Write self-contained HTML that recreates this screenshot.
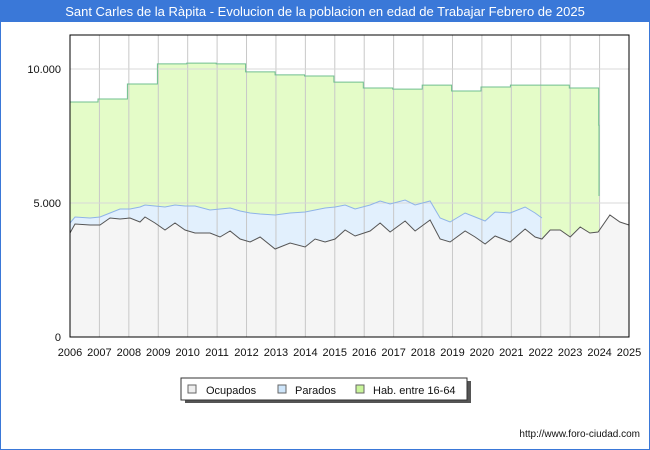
<!DOCTYPE html>
<html><head><meta charset="utf-8"><style>
body{margin:0;background:#fff;font-family:"Liberation Sans",sans-serif}
svg{display:block}
</style></head><body>
<svg width="650" height="450" viewBox="0 0 650 450" id="c">
<rect x="0.5" y="0.5" width="649" height="449" fill="#fff" stroke="#3a78d8"/>
<rect x="0" y="0" width="650" height="22" fill="#3a78d8"/>
<text x="325" y="16" text-anchor="middle" fill="#fff" font-size="13">Sant Carles de la Ràpita - Evolucion de la poblacion en edad de Trabajar Febrero de 2025</text>
<g id="plot"></g>
<g>
<rect x="185" y="381" width="286" height="22" fill="#555"/>
<rect x="181" y="378" width="286" height="22" fill="#fff" stroke="#333"/>
<rect x="188" y="385" width="8" height="8" fill="#eee" stroke="#666"/>
<text x="206" y="394" font-size="11" fill="#111">Ocupados</text>
<rect x="278" y="385" width="8" height="8" fill="#cfe6fb" stroke="#666"/>
<text x="295" y="394" font-size="11" fill="#111">Parados</text>
<rect x="356" y="385" width="8" height="8" fill="#c9f59a" stroke="#666"/>
<text x="373" y="394" font-size="11" fill="#111">Hab. entre 16-64</text>
</g>
<text x="640" y="437" text-anchor="end" font-size="10" fill="#111">http://www.foro-ciudad.com</text>
</svg>
<script>
const yearTicks=[2006,2007,2008,2009,2010,2011,2012,2013,2014,2015,2016,2017,2018,2019,2020,2021,2022,2023,2024,2025];
const yTicks=[0,5000,10000];
const yTickLabels=["0","5.000","10.000"];
const habYears=[2006,2006.95,2007.95,2008.97,2009.97,2010.97,2011.97,2012.97,2013.97,2014.97,2015.97,2016.97,2017.97,2018.97,2019.97,2020.97,2021.97,2022.97,2023.97,2023.98];
const habValues=[8770,8880,9440,10190,10220,10190,9890,9780,9740,9510,9290,9250,9400,9180,9330,9400,9400,9290,7900,5260];
const ocYears=[2006,2006.17,2006.68,2007.02,2007.36,2007.7,2008.04,2008.38,2008.55,2008.89,2009.23,2009.57,2009.91,2010.25,2010.76,2011.1,2011.44,2011.78,2012.12,2012.46,2012.97,2013.48,2013.99,2014.33,2014.67,2015.01,2015.35,2015.69,2016.2,2016.54,2016.88,2017.39,2017.73,2018.24,2018.58,2018.92,2019.43,2019.77,2020.11,2020.45,2020.96,2021.47,2021.81,2022.04,2022.32,2022.66,2023,2023.34,2023.67,2023.95,2024.35,2024.69,2025];
const ocValues=[3880,4216,4179,4179,4440,4403,4440,4291,4477,4253,3992,4253,3992,3880,3880,3731,3955,3656,3544,3731,3283,3507,3358,3656,3544,3656,3992,3768,3955,4253,3918,4328,3955,4365,3656,3544,3955,3731,3470,3768,3544,4029,3731,3656,3992,3992,3731,4104,3880,3918,4552,4291,4179];
const parValues=[373,261,261,298,187,373,336,560,448,634,858,672,895,1007,858,1045,858,1045,1082,858,1269,1119,1306,1082,1269,1194,933,1007,970,821,1045,784,970,709,784,746,672,746,858,895,1082,821,895,784];
const L=70,R=629,T=35,B=337;
const X=y=>L+(y-2006)*(R-L)/19;
const Y=v=>B-v*(B-69)/10000;
const g=document.getElementById('plot');
const NS='http://www.w3.org/2000/svg';
function mk(tag,at){const e=document.createElementNS(NS,tag);for(const k in at)e.setAttribute(k,at[k]);g.appendChild(e);return e;}
let hp=[];for(let i=0;i<habYears.length;i++){const x1=X(habYears[i]);const x2=i<habYears.length-1?X(habYears[i+1]):x1;hp.push([x1,Y(habValues[i])]);hp.push([x2,Y(habValues[i])]);}
let d='M'+X(2006)+','+B+' '+hp.map(p=>'L'+p[0].toFixed(1)+','+p[1].toFixed(1)).join(' ')+' L'+X(habYears[habYears.length-1])+','+B+'Z';
let e=mk('path',{d:d,fill:'#e4fcc8'});


const n=parValues.length;
let parTop=[],parBot=[];for(let i=0;i<n;i++){parTop.push(X(ocYears[i]).toFixed(1)+','+Y(ocValues[i]+parValues[i]).toFixed(1));parBot.push(X(ocYears[i]).toFixed(1)+','+Y(ocValues[i]).toFixed(1));}
e=mk('path',{d:'M'+parTop.join(' L')+' L'+parBot.slice().reverse().join(' L')+'Z',fill:'#e2f0fd'});


let op=ocYears.map((y,i)=>X(y).toFixed(1)+','+Y(ocValues[i]).toFixed(1));
e=mk('path',{d:'M'+L+','+B+' L'+op.join(' L')+' L'+R+','+B+'Z',fill:'#f5f5f5'});


yearTicks.forEach(y=>{const l=mk('line',{x1:X(y),x2:X(y),y1:T,y2:B,stroke:'#c8c8c8'});


const t=mk('text',{x:X(y),y:356,'text-anchor':'middle','font-size':11,fill:'#111'});t.textContent=y;

});
yTicks.forEach((v,i)=>{if(v>0){const l=mk('line',{x1:L,x2:R,y1:Y(v),y2:Y(v),stroke:'#d8d8d8'});

}
const t=mk('text',{x:61,y:Y(v)+4,'text-anchor':'end','font-size':11,fill:'#111'});t.textContent=yTickLabels[i];

});
e=mk('polyline',{points:hp.map(p=>p[0].toFixed(1)+','+p[1].toFixed(1)).join(' '),fill:'none',stroke:'#6fbf8f','stroke-width':1});


e=mk('polyline',{points:parTop.join(' '),fill:'none',stroke:'#8fb3e8','stroke-width':1});


e=mk('polyline',{points:op.join(' '),fill:'none',stroke:'#555','stroke-width':1});


e=mk('rect',{x:L,y:T,width:R-L,height:B-T,fill:'none',stroke:'#000'});


</script>
</body></html>
